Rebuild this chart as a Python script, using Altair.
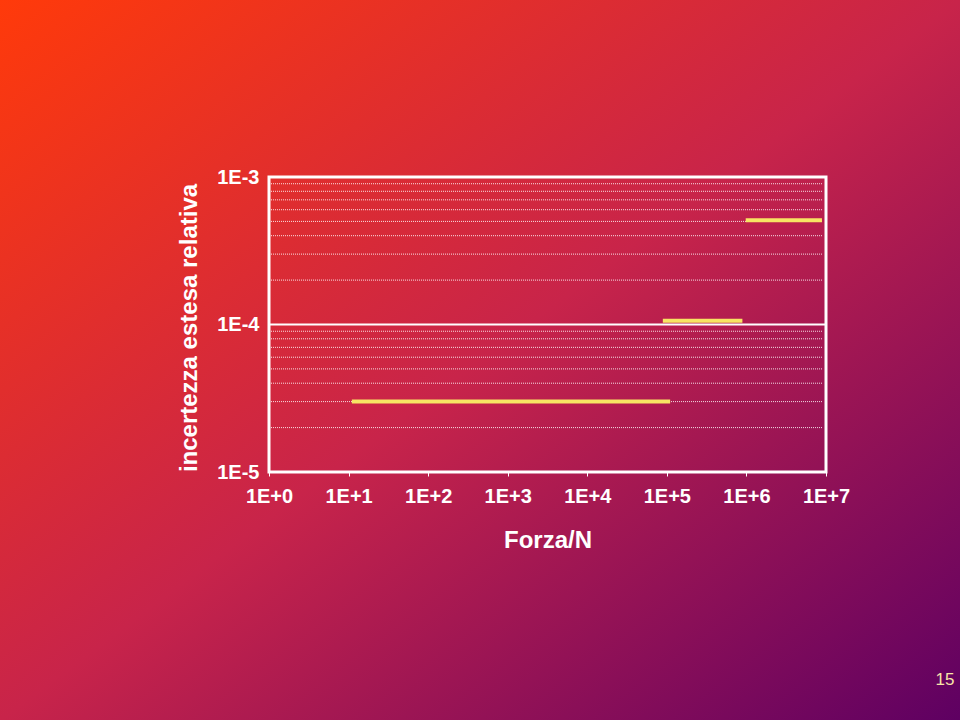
import altair as alt
import pandas as pd

# ---- data ----
seg_start = [11, 8.9e4, 9.8e5]
seg_end = [1.1e5, 8.9e5, 8.9e6]
seg_value = [3.0e-5, 1.06e-4, 5.1e-4]

minor_grid = [2e-5, 3e-5, 4e-5, 5e-5, 6e-5, 7e-5, 8e-5, 9e-5,
              2e-4, 3e-4, 4e-4, 5e-4, 6e-4, 7e-4, 8e-4, 9e-4]
major_grid = [1e-4]
x_ticks = [1, 1e1, 1e2, 1e3, 1e4, 1e5, 1e6, 1e7]
y_ticks = [1e-5, 1e-4, 1e-3]
x_title = "Forza/N"
y_title = "incertezza estesa relativa"
page_number = ["15"]

# ---- layout ----
W, H = 557, 295
PL, PT, PR, PB = 269, 177, 134, 248
FONT = "Liberation Sans"

segments = pd.DataFrame({"start": seg_start, "end": seg_end, "value": seg_value})
minor_df = pd.DataFrame({"g": minor_grid})
major_df = pd.DataFrame({"g": major_grid})
one = pd.DataFrame({"page": page_number})

xscale = alt.Scale(type="log", domain=[1, 1e7], nice=False)
yscale = alt.Scale(type="log", domain=[1e-5, 1e-3], nice=False)

label_expr = "'1E' + (datum.value >= 1 ? '+' : '-') + abs(round(log(datum.value)/LN10))"

x_axis = alt.Axis(
    values=x_ticks, labelExpr=label_expr, grid=False, domain=False,
    ticks=True, tickSize=4, tickColor="white", tickWidth=1,
    labelColor="white", labelFont=FONT, labelFontSize=20, labelFontWeight="bold",
    labelPadding=10, labelFlush=False, labelOverlap=False,
    title=x_title, titleFont=FONT, titleFontSize=24, titleFontWeight="bold",
    titleColor="white", titleY=75, titleBaseline="alphabetic", zindex=1,
)
y_axis = alt.Axis(
    values=y_ticks, labelExpr=label_expr, grid=False, domain=False, ticks=False,
    labelColor="white", labelFont=FONT, labelFontSize=20, labelFontWeight="bold",
    labelPadding=10, labelFlush=False, labelOverlap=False,
    title=y_title, titleFont=FONT, titleFontSize=24, titleFontWeight="bold",
    titleColor="white", titleX=-73, titleY=H / 2 + 3, titleAngle=270,
    titleBaseline="alphabetic", titleAlign="center", zindex=1,
)

gradient = alt.LinearGradient(
    gradient="linear", x1=0, y1=0, x2=1, y2=1,
    stops=[
        alt.GradientStop(color="#ff3a0a", offset=0),
        alt.GradientStop(color="#c8244a", offset=0.5),
        alt.GradientStop(color="#5e0062", offset=1),
    ],
)

background = alt.Chart(one).mark_rect(fill=gradient).encode(
    x=alt.value(-PL), x2=alt.value(W + PR), y=alt.value(-PT), y2=alt.value(H + PB)
)

minor = alt.Chart(minor_df).mark_rule(
    color="white", strokeWidth=1, strokeDash=[1, 1], opacity=0.85
).encode(
    y=alt.Y("g:Q", scale=yscale, axis=y_axis),
    x=alt.value(2), x2=alt.value(W - 3),
)

major = alt.Chart(major_df).mark_rule(color="white", strokeWidth=2).encode(
    y=alt.Y("g:Q", scale=yscale, axis=y_axis),
    x=alt.value(0), x2=alt.value(W),
)

segs = alt.Chart(segments).mark_rule(color="#f7e463", strokeWidth=4).encode(
    x=alt.X("start:Q", scale=xscale, axis=x_axis),
    x2="end:Q",
    y=alt.Y("value:Q", scale=yscale, axis=y_axis),
)

border = alt.Chart(one).mark_rect(
    fillOpacity=0, stroke="white", strokeWidth=3
).encode(x=alt.value(0), x2=alt.value(W), y=alt.value(0), y2=alt.value(H))

page = alt.Chart(one).mark_text(
    font=FONT, fontSize=17, color="#f8e4a8", align="center", baseline="middle"
).encode(text="page:N", x=alt.value(945 - PL), y=alt.value(680 - PT))

chart = alt.layer(background, minor, major, segs, border, page).properties(
    width=W, height=H,
    padding={"left": PL, "top": PT, "right": PR, "bottom": PB},
    autosize=alt.AutoSizeParams(type="none"),
).configure(background="#c8244a").configure_view(strokeWidth=0)

chart.save("out.html", embed_options={"renderer": "svg", "actions": False})
